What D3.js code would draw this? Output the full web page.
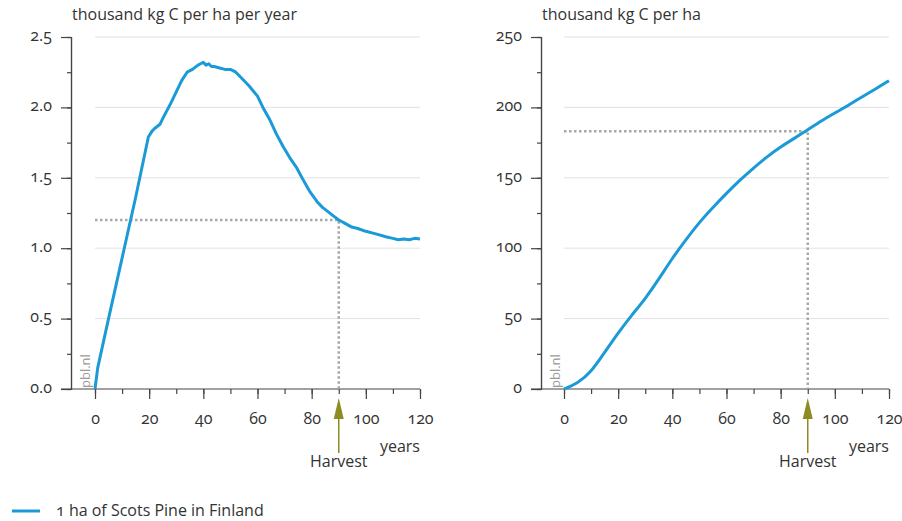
<!DOCTYPE html>
<html>
<head>
<meta charset="utf-8">
<script src="https://cdn.jsdelivr.net/npm/d3@7"></script>
<style>
  body { margin: 0; background: #fff; }
  svg text { font-family: 'Open Sans', 'Noto Sans', sans-serif; fill: #333; }
  .num { font-variant-numeric: oldstyle-nums; font-feature-settings: 'onum' 1; }
</style>
</head>
<body>
<svg id="chart" width="902" height="521"></svg>
<script>
// Annual carbon uptake (thousand kg C per ha per year)
const uptakeYears = [0, 1, 5, 10, 15, 19.7, 21, 22, 24, 25, 28, 30, 32, 34, 36, 38, 39, 40, 41, 42, 43, 44, 46, 48, 50, 52, 54, 57, 60, 62, 64.6, 67, 69.5, 72, 74.5, 77, 79.4, 82, 84, 86, 88, 90, 92, 94.8, 97, 100, 104, 107.7, 110, 112, 114, 116, 118, 120]
const uptakeValues = [0, 0.15, 0.5, 0.93, 1.36, 1.79, 1.83, 1.85, 1.88, 1.92, 2.03, 2.11, 2.19, 2.25, 2.27, 2.30, 2.31, 2.32, 2.30, 2.31, 2.29, 2.29, 2.28, 2.27, 2.27, 2.25, 2.21, 2.15, 2.08, 2.00, 1.91, 1.81, 1.72, 1.64, 1.57, 1.48, 1.40, 1.33, 1.29, 1.26, 1.23, 1.20, 1.18, 1.15, 1.14, 1.12, 1.10, 1.08, 1.07, 1.06, 1.065, 1.06, 1.07, 1.065]

// Carbon stock (thousand kg C per ha)
const stockYears = [0, 5, 10, 15, 20, 25, 30, 35, 40, 45, 50, 55, 60, 65, 70, 75, 80, 85, 90, 95, 100, 105, 110, 115, 120]
const stockValues = [0, 4, 12, 26, 40, 52.5, 64, 78, 93, 106, 118.5, 129, 139, 148.5, 157, 165, 172, 178, 184, 190.5, 196, 201.5, 207.5, 213, 219]

const harvestYear = 90
const harvestUptake = 1.2
const harvestStock = 183

const uptakeTicks = [0, 0.5, 1.0, 1.5, 2.0, 2.5]
const stockTicks = [0, 50, 100, 150, 200, 250]
const yearTicks = [0, 20, 40, 60, 80, 100, 120]

const lineColor = '#1a9bd7'
const svg = d3.select('#chart')

function drawPanel(opts) {
  const g = svg.append('g')
  const x = d3.scaleLinear().domain([0, 120]).range([opts.x0, opts.x0 + 325])
  const y = d3.scaleLinear().domain([0, opts.yMax]).range([389, 37])

  // gridlines
  g.selectAll('.grid')
    .data(opts.yTicks.slice(1))
    .join('line')
    .attr('x1', x(0)).attr('x2', x(120))
    .attr('y1', d => y(d)).attr('y2', d => y(d))
    .attr('stroke', '#e2e2e2').attr('stroke-width', 1)

  // y axis with major and minor ticks
  const yAxis = g.append('g').attr('transform', `translate(${opts.axisX},0)`)
  yAxis.call(d3.axisLeft(y).tickValues(d3.range(0, opts.yMax + 1e-9, opts.yMax / 10)).tickSize(4).tickFormat(''))
  yAxis.append('g').call(d3.axisLeft(y).tickValues(opts.yTicks).tickSize(10).tickFormat(opts.fmt))
  yAxis.selectAll('path.domain').attr('stroke', '#444').attr('stroke-width', 1.2)
  yAxis.selectAll('line').attr('stroke', '#444').attr('stroke-width', 1.2)
  yAxis.selectAll('text').attr('class', 'num').attr('font-size', 16).attr('fill', '#333').attr('dx', -6).attr('dy', '0.2em')

  // x axis
  const xAxis = g.append('g').attr('transform', 'translate(0,389)')
  xAxis.call(d3.axisBottom(x).tickValues(d3.range(0, 121, 10)).tickSize(5).tickFormat(''))
  xAxis.append('g').call(d3.axisBottom(x).tickValues(yearTicks).tickSize(10).tickFormat(d3.format('d')))
  xAxis.selectAll('path.domain').remove()
  xAxis.selectAll('line').attr('stroke', '#444').attr('stroke-width', 1.2)
  xAxis.selectAll('text').attr('class', 'num').attr('font-size', 16).attr('fill', '#333').attr('dy', '1.4em')
  xAxis.append('line')
    .attr('x1', opts.axisX - 10).attr('x2', x(120))
    .attr('stroke', '#444').attr('stroke-width', 1.2)

  // harvest reference lines
  g.append('path')
    .attr('d', `M${x(0)},${y(opts.harvestValue)}H${x(harvestYear)}V389`)
    .attr('fill', 'none')
    .attr('stroke', '#a8a8a8').attr('stroke-width', 2.5)
    .attr('stroke-dasharray', '2.5,2.5')

  // series line
  const data = opts.years.map((d, i) => [d, opts.values[i]])
  g.append('path')
    .datum(data)
    .attr('fill', 'none')
    .attr('stroke', lineColor)
    .attr('stroke-width', 3)
    .attr('stroke-linejoin', 'round')
    .attr('d', d3.line().x(d => x(d[0])).y(d => y(d[1])).curve(opts.curve))

  // harvest arrow
  const hx = x(harvestYear)
  g.append('line')
    .attr('x1', hx).attr('x2', hx).attr('y1', 415).attr('y2', 453)
    .attr('stroke', '#8c8c22').attr('stroke-width', 1.5)
  g.append('path')
    .attr('d', `M${hx},398L${hx + 5},419L${hx - 5},419Z`)
    .attr('fill', '#8c8c22')
  g.append('text')
    .attr('x', hx).attr('y', 467)
    .attr('text-anchor', 'middle').attr('font-size', 16)
    .text('Harvest')

  g.append('text')
    .attr('x', x(120)).attr('y', 452)
    .attr('text-anchor', 'end').attr('font-size', 16)
    .text('years')

  // title
  g.append('text')
    .attr('x', opts.axisX + 1).attr('y', 20)
    .attr('font-size', 16)
    .text(opts.title)

  // source tag
  g.append('text')
    .attr('transform', `translate(${opts.axisX + 19},388) rotate(-90)`)
    .attr('font-size', 13)
    .style('fill', '#9a9a9a')
    .text('pbl.nl')
}

drawPanel({
  x0: 95, axisX: 71, yMax: 2.5, yTicks: uptakeTicks, fmt: d3.format('.1f'),
  years: uptakeYears, values: uptakeValues, harvestValue: harvestUptake,
  curve: d3.curveLinear, title: 'thousand kg C per ha per year'
})

drawPanel({
  x0: 564, axisX: 541, yMax: 250, yTicks: stockTicks, fmt: d3.format('d'),
  years: stockYears, values: stockValues, harvestValue: harvestStock,
  curve: d3.curveBasis, title: 'thousand kg C per ha'
})

// legend
svg.append('line')
  .attr('x1', 12).attr('x2', 40).attr('y1', 511).attr('y2', 511)
  .attr('stroke', lineColor).attr('stroke-width', 3)
svg.append('text')
  .attr('x', 56).attr('y', 516)
  .attr('class', 'num')
  .attr('font-size', 16)
  .text('1 ha of Scots Pine in Finland')
</script>
</body>
</html>
